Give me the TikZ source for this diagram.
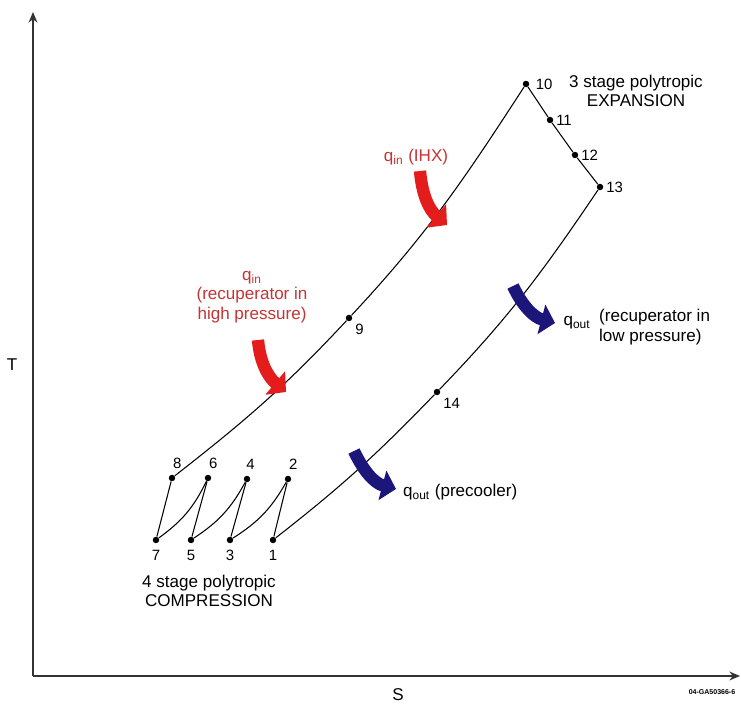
\documentclass[tikz,border=0pt]{standalone}
\usepackage{fontspec}
\setmainfont{Liberation Sans}
\usetikzlibrary{arrows.meta,positioning}
\definecolor{heatin}{RGB}{228,28,28}
\definecolor{heatout}{RGB}{28,22,122}
\definecolor{intext}{RGB}{196,52,52}

\begin{document}
\begin{tikzpicture}[
    x=0.02cm, y=0.02cm,
    >=Stealth,
    every node/.style={font=\fontsize{8.5}{10}\selectfont},
    note/.style={font=\fontsize{9.7}{11}\selectfont},
    statept/.style={circle, fill, inner sep=1.3pt},
    cycleline/.style={line width=0.6pt},
    axisline/.style={line width=1.2pt, draw=black!80, -{Stealth[length=6pt,width=5pt]}},
    heatarrow/.style={line width=7pt, -{Triangle[length=8pt,width=17pt]}}
]
\useasboundingbox (0,0) rectangle (741,704);

\coordinate (origin) at (33,28);
\coordinate (ytop) at (33,692);
\coordinate (xend) at (740,28);
\draw[axisline] (origin) -- (ytop);
\draw[axisline] (origin) -- (xend);
\node[note] (Tlab) at (12,339) {T};
\node[note] (Slab) at (398,9) {S};
\node[font=\fontsize{4}{5}\selectfont\bfseries] (docid) at (712,12) {04-GA50366-6};

\node[statept, label=below:1] (p1) at (273,164) {};
\node[statept, label={[xshift=3pt]above:2}] (p2) at (288,225) {};
\node[statept, label=below:3] (p3) at (230,164) {};
\node[statept, label={[xshift=2pt]above:4}] (p4) at (247,225) {};
\node[statept, label=below:5] (p5) at (191,164) {};
\node[statept, label={[xshift=3pt]above:6}] (p6) at (208,226) {};
\node[statept, label=below:7] (p7) at (156,164) {};
\node[statept, label={[xshift=3pt]above:8}] (p8) at (172,226) {};
\node[statept, label={[label distance=-2pt]below right:9}] (p9) at (349,386) {};
\node[statept, label=right:10] (p10) at (526,620) {};
\node[statept, label={[label distance=-2pt]right:11}] (p11) at (550,584) {};
\node[statept, label={[label distance=-2pt]right:12}] (p12) at (575,549) {};
\node[statept, label={[label distance=-2pt]right:13}] (p13) at (600,517) {};
\node[statept, label={[label distance=-2pt]below right:14}] (p14) at (437,312) {};

\draw[cycleline] (p1) -- (p2);
\draw[cycleline] (p2) to[bend left=14] (p3);
\draw[cycleline] (p3) -- (p4);
\draw[cycleline] (p4) to[bend left=14] (p5);
\draw[cycleline] (p5) -- (p6);
\draw[cycleline] (p6) to[bend left=14] (p7);
\draw[cycleline] (p7) -- (p8);
\draw[cycleline] (p8) to[out=38,in=227] (p9);
\draw[cycleline] (p9) to[out=47,in=237] (p10);
\draw[cycleline] (p10) -- (p11);
\draw[cycleline] (p11) -- (p12);
\draw[cycleline] (p12) -- (p13);
\draw[cycleline] (p13) to[out=236,in=46] (p14);
\draw[cycleline] (p14) to[out=226,in=38] (p1);

\node[note, align=center] (expan) at (636,613) {3 stage polytropic\\EXPANSION};
\node[note, align=center] (compr) at (209,113) {4 stage polytropic\\COMPRESSION};

\coordinate (ihxA) at (420,533);
\coordinate (ihxB) at (447,479);
\draw[heatarrow, heatin] (ihxA) to[out=-85,in=140] (ihxB);
\node[note, text=intext] (ihxlab) at (416,547) {q$_{\mathrm{in}}$ (IHX)};

\coordinate (hpA) at (258,364);
\coordinate (hpB) at (286,312);
\draw[heatarrow, heatin] (hpA) to[out=-85,in=140] (hpB);
\node[note, text=intext, align=center] (hplab) at (252,407) {q$_{\mathrm{in}}$\\(recuperator in\\high pressure)};

\coordinate (lpA) at (513,418);
\coordinate (lpB) at (555,381);
\draw[heatarrow, heatout] (lpA) to[out=-65,in=165] (lpB);
\node[note] (lpq) at (577,381) {q$_{\mathrm{out}}$};
\node[note, align=left, anchor=west] (lplab) at (593,377) {(recuperator in\\low pressure)};

\coordinate (pcA) at (354,253);
\coordinate (pcB) at (396,215);
\draw[heatarrow, heatout] (pcA) to[out=-65,in=165] (pcB);
\node[note, anchor=west] (pclab) at (397,212) {q$_{\mathrm{out}}$ (precooler)};

\end{tikzpicture}
\end{document}
